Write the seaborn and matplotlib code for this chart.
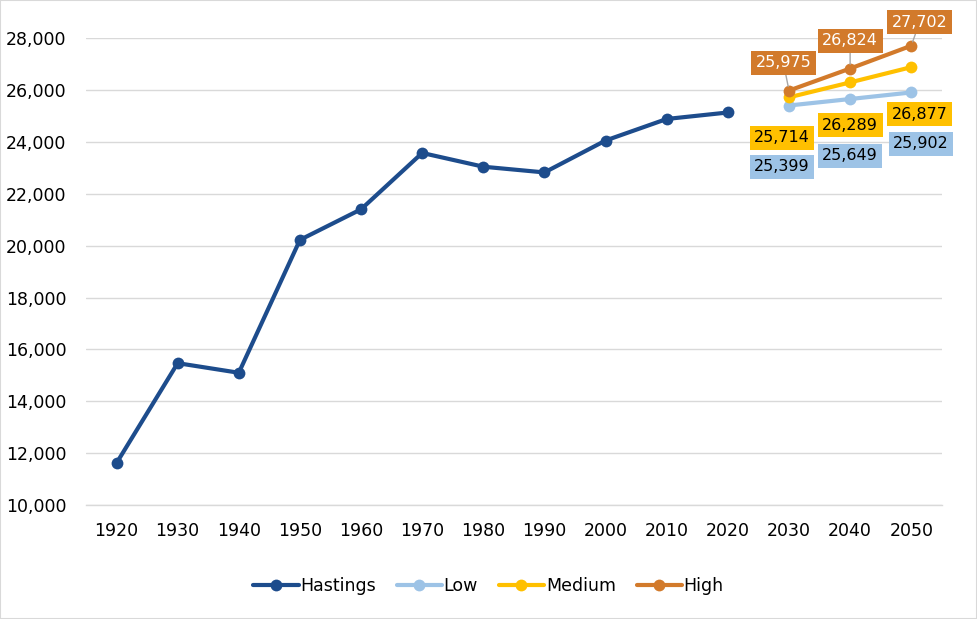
import pandas as pd
import matplotlib.pyplot as plt
import matplotlib.patches as mpatches
import seaborn as sns

# data
years = [1920, 1930, 1940, 1950, 1960, 1970, 1980, 1990, 2000, 2010, 2020]
hastings = [11620, 15470, 15100, 20220, 21400, 23570, 23040, 22820, 24050, 24880, 25130]
proj_years = [2030, 2040, 2050]
low = [25399, 25649, 25902]
medium = [25714, 26289, 26877]
high = [25975, 26824, 27702]
all_years = years + proj_years

colors = {
    'Hastings': '#1D4C8C',
    'Low': '#9DC3E6',
    'Medium': '#FFC000',
    'High': '#D27A2B',
}

df = pd.concat([
    pd.DataFrame({'year': years, 'pop': hastings, 'series': 'Hastings'}),
    pd.DataFrame({'year': proj_years, 'pop': low, 'series': 'Low'}),
    pd.DataFrame({'year': proj_years, 'pop': medium, 'series': 'Medium'}),
    pd.DataFrame({'year': proj_years, 'pop': high, 'series': 'High'}),
], ignore_index=True)

sns.set_theme(style='white')
plt.rcParams['font.family'] = ['DejaVu Sans']

fig = plt.figure(figsize=(9.77, 6.19), dpi=100)
ax = fig.add_axes([0.088, 0.184, 0.876, 0.7546])

ax.yaxis.grid(True, color='#D9D9D9', linewidth=1)
ax.set_axisbelow(True)

sns.lineplot(data=df, x='year', y='pop', hue='series',
             hue_order=['Hastings', 'Low', 'Medium', 'High'],
             palette=colors, marker='o', markersize=8.5,
             markeredgewidth=0, linewidth=3, ax=ax)

ax.set_xlim(1915, 2055)
ax.set_ylim(10000, 28000)
ax.set_xticks(all_years)
ax.set_xticklabels([str(y) for y in all_years])
ax.set_yticks(range(10000, 28001, 2000))
ax.set_yticklabels([f'{v:,}' for v in range(10000, 28001, 2000)])
ax.tick_params(axis='both', length=0, labelsize=12.5, colors='#000000')
ax.tick_params(axis='y', pad=14)
ax.tick_params(axis='x', pad=12)
ax.set_xlabel('')
ax.set_ylabel('')
for side in ['top', 'right', 'left']:
    ax.spines[side].set_visible(False)
ax.spines['bottom'].set_color('#D9D9D9')
ax.spines['bottom'].set_linewidth(1)

# data labels for projections
high_off = [(-4, 20), (0, 20), (6, 17)]
med_off = [(-5, -29), (0, -31), (6, -34)]
low_off = [(-5, -44), (0, -41), (7, -37)]

for yr, v, off in zip(proj_years, high, high_off):
    ax.annotate(f'{v:,}', xy=(yr, v), xytext=off, textcoords='offset points',
                ha='center', va='center', fontsize=11.5, color='white',
                bbox=dict(boxstyle='square,pad=0.28', fc=colors['High'], ec='none'),
                arrowprops=dict(arrowstyle='-', color='#A6A6A6', lw=1,
                                shrinkA=0, shrinkB=3),
                annotation_clip=False, zorder=5)
for yr, v, off in zip(proj_years, medium, med_off):
    ax.annotate(f'{v:,}', xy=(yr, v), xytext=off, textcoords='offset points',
                ha='center', va='center', fontsize=11.5, color='black',
                bbox=dict(boxstyle='square,pad=0.28', fc=colors['Medium'], ec='none'),
                annotation_clip=False, zorder=5)
for yr, v, off in zip(proj_years, low, low_off):
    ax.annotate(f'{v:,}', xy=(yr, v), xytext=off, textcoords='offset points',
                ha='center', va='center', fontsize=11.5, color='black',
                bbox=dict(boxstyle='square,pad=0.28', fc=colors['Low'], ec='none'),
                annotation_clip=False, zorder=5)

handles, labels = ax.get_legend_handles_labels()
ax.legend_.remove()
leg = fig.legend(handles, labels, loc='center', bbox_to_anchor=(0.5, 0.053), ncol=4,
                 frameon=False, fontsize=12.5, handlelength=2.6, handletextpad=0.1,
                 columnspacing=1.2)
for t in leg.get_texts():
    t.set_color('black')

fig.patches.append(mpatches.Rectangle((0, 0), 1, 1, transform=fig.transFigure,
                                      fill=False, ec='#D9D9D9', lw=1.5))

fig.savefig('out.png', dpi=100)
